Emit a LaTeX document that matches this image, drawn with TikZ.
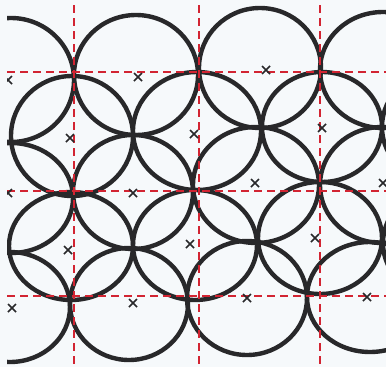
\documentclass[tikz,border=0pt]{standalone}
\begin{document}
\definecolor{paper}{RGB}{246,249,251}
\definecolor{ink}{RGB}{40,40,42}
\definecolor{guidered}{RGB}{210,36,50}
\begin{tikzpicture}[x=1pt,y=-1pt,
  ring/.style={draw=ink,line width=4.4pt},
  guide/.style={draw=guidered,line width=2.2pt,dash pattern=on 8pt off 5pt},
  cross/.style={draw=ink,line width=1.5pt}]
\useasboundingbox (0,0) rectangle (386,367);
\fill[paper] (0,0) rectangle (386,367);
\begin{scope}
\clip (7,4) rectangle (386,367);
% circles of the pattern: centre x, centre y, x radius, y radius
\foreach \cx/\cy/\rx/\ry in {
  11/80/63/62, 136/75/62/60, 260/68/61/60, 383/70/63/58,
  72/136/61/60, 197/131/64/59, 322/127/60/55, 443/127/61/57,
  11/198/62/55, 133/192/60/57, 256/185/63/58, 382/185/62/58,
  71/246/62/54, 195/245/62/55, 320/238/62/56, 445/243/62/56,
  10/307/60/55, 129/304/59/56, 247/298/60/57, 370/297/63/55}
  \draw[ring] (\cx,\cy) ellipse [x radius=\rx, y radius=\ry];
% red dashed guide lines
\foreach \gx in {74,199,320}
  \draw[guide] (\gx,5) coordinate (vt\gx) -- (\gx,367) coordinate (vb\gx);
\foreach \gy in {72,191,296}
  \draw[guide] (7,\gy) coordinate (hl\gy) -- (386,\gy) coordinate (hr\gy);
% centre marks
\foreach \mx/\my in {
  8/80, 138/77, 266/70,
  70/138, 194/134, 322/128,
  8/193, 133/193, 255/183, 383/183,
  68/250, 190/244, 315/238,
  12/308, 133/303, 247/298, 367/297}
  \draw[cross] (\mx-4,\my-4) -- (\mx+4,\my+4)
               (\mx-4,\my+4) -- (\mx+4,\my-4);
\end{scope}
\end{tikzpicture}
\end{document}
